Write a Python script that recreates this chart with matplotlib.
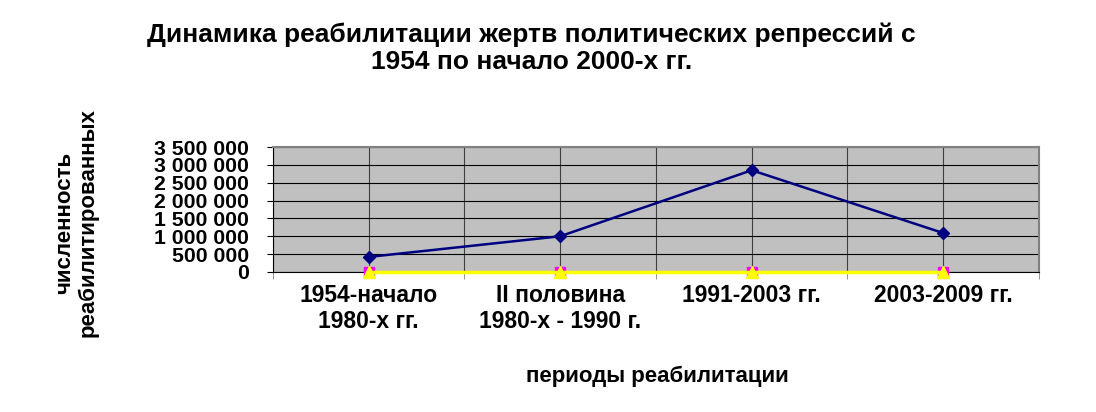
import matplotlib
matplotlib.use("Agg")
import matplotlib.pyplot as plt
from matplotlib.ticker import FuncFormatter, MultipleLocator

# data
periods = ["1954-начало\n1980-х гг.", "II половина\n1980-х - 1990 г.",
           "1991-2003 гг.", "2003-2009 гг."]
rehabilitated = [420000, 1000000, 2850000, 1090000]
series_b = [0, 0, 0, 0]
series_c = [0, 0, 0, 0]

plt.rcParams["font.family"] = ["Liberation Sans", "DejaVu Sans"]
plt.rcParams["font.weight"] = "bold"

fig = plt.figure(figsize=(10.96, 4.12), dpi=100)
ax = fig.add_axes([0.249, 0.340, 0.699, 0.303])
ax.set_facecolor("#c0c0c0")

x = range(len(periods))
ax.plot(x, series_c, color="#ff00ff", marker="s", markersize=7, lw=2, zorder=3, clip_on=False)
ax.plot(x, series_b, color="#ffff00", marker="^", markersize=8, lw=2.5, zorder=4, clip_on=False)
ax.plot(x, rehabilitated, color="#000080", marker="D", markersize=6, lw=1.8, zorder=5)

ax.set_xlim(-0.5, 3.5)
ax.set_ylim(0, 3500000)
ax.yaxis.set_major_locator(MultipleLocator(500000))
ax.yaxis.set_major_formatter(FuncFormatter(lambda v, p: f"{int(v):,}".replace(",", " ")))
ax.set_xticks(list(x))
ax.set_xticklabels(periods, fontsize=16.5, linespacing=1.15)
ax.set_xticks([-0.5, 0.5, 1.5, 2.5, 3.5], minor=True)
ax.tick_params(axis="x", which="major", length=0, pad=9)
ax.tick_params(axis="x", which="minor", length=5, color="#808080")
ax.tick_params(axis="y", length=4, labelsize=15.3, pad=13)

ax.grid(True, which="major", axis="y", color="black", lw=0.8)
ax.grid(True, which="both", axis="x", color="#404040", lw=0.8)
ax.set_axisbelow(True)
for s in ["top", "right"]:
    ax.spines[s].set_color("#808080")
    ax.spines[s].set_linewidth(1.5)
ax.spines["left"].set_color("black")
ax.spines["bottom"].set_color("black")

fig.text(0.485, 0.883, "Динамика реабилитации жертв политических репрессий с\n1954 по начало 2000-х гг.",
         ha="center", va="center", fontsize=19, fontweight="bold", linespacing=1.2)
fig.text(0.070, 0.459, "численность\nреабилитированных", rotation=90, ha="center", va="center",
         fontsize=16, fontweight="bold", linespacing=1.15)
fig.text(0.600, 0.087, "периоды реабилитации", ha="center", va="center",
         fontsize=16, fontweight="bold")

fig.savefig("out.png", dpi=100)
